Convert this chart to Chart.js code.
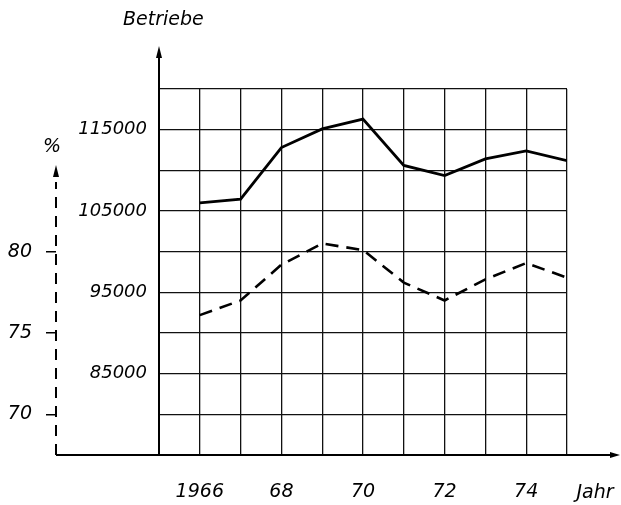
<!DOCTYPE html>
<html>
<head>
<meta charset="utf-8">
<script src="https://cdn.jsdelivr.net/npm/chart.js@4/dist/chart.umd.min.js"></script>
<style>
  body { margin: 0; background: #fff; }
  canvas { display: block; }
</style>
</head>
<body>
<canvas id="chart" width="621" height="505"></canvas>
<script>
// Daten
const jahre = [1966, 1967, 1968, 1969, 1970, 1971, 1972, 1973, 1974, 1975];
const betriebe = [106000, 106450, 112800, 115100, 116300, 110600, 109350, 111400, 112400, 111200];
const prozent = [76.1, 77.0, 79.2, 80.5, 80.1, 78.1, 77.0, 78.3, 79.3, 78.4];

const jahrTicks = [1966, 1968, 1970, 1972, 1974];
const jahrLabels = ['1966', '68', '70', '72', '74'];
const betriebeTicks = [85000, 95000, 105000, 115000];
const prozentTicks = [70, 75, 80];

const schrift = { family: '"DejaVu Sans"', style: 'italic' };

function pfeilHoch(ctx, x, y) { // kleine Pfeilspitze nach oben
    ctx.beginPath();
    ctx.moveTo(x, y);
    ctx.lineTo(x - 3, y + 12);
    ctx.lineTo(x + 3, y + 12);
    ctx.closePath();
    ctx.fill();
}

function pfeilRechts(ctx, x, y) {
    ctx.beginPath();
    ctx.moveTo(x, y);
    ctx.lineTo(x - 10, y - 3);
    ctx.lineTo(x - 10, y + 3);
    ctx.closePath();
    ctx.fill();
}

// Achsenpfeile und Beschriftungen ausserhalb der Zeichenflaeche
const extras = {
    id: 'extras',
    afterDraw(chart) {
        const ctx = chart.ctx;
        const a = chart.chartArea;
        const px = chart.scales.y1.right;
        ctx.save();
        ctx.strokeStyle = '#000';
        ctx.fillStyle = '#000';
        ctx.lineWidth = 2;

        ctx.beginPath();
        ctx.moveTo(a.left, a.top);
        ctx.lineTo(a.left, 56);
        ctx.stroke();
        pfeilHoch(ctx, a.left, 46);

        ctx.setLineDash([11, 8]);
        ctx.beginPath();
        ctx.moveTo(px, a.bottom);
        ctx.lineTo(px, 182);
        ctx.stroke();
        ctx.setLineDash([]);
        pfeilHoch(ctx, px, 165);

        ctx.beginPath();
        ctx.moveTo(px, a.bottom);
        ctx.lineTo(612, a.bottom);
        ctx.stroke();
        pfeilRechts(ctx, 620, a.bottom);

        ctx.font = 'italic 19px "DejaVu Sans"';
        ctx.textBaseline = 'middle';
        ctx.textAlign = 'left';
        ctx.fillText('Betriebe', 123, 20);
        ctx.textAlign = 'center';
        ctx.fillText('%', px - 4, 147);
        ctx.fillText('Jahr', 595, 493);
        ctx.restore();
    }
};

new Chart(document.getElementById('chart'), {
    type: 'line',
    data: {
        datasets: [{
            label: 'Betriebe',
            data: jahre.map((j, i) => ({ x: j, y: betriebe[i] })),
            yAxisID: 'y',
            borderColor: '#000',
            borderWidth: 2.8,
            pointRadius: 0,
            tension: 0
        }, {
            label: '%',
            data: jahre.map((j, i) => ({ x: j, y: prozent[i] })),
            yAxisID: 'y1',
            borderColor: '#000',
            borderWidth: 2.6,
            borderDash: [13, 8],
            pointRadius: 0,
            tension: 0
        }]
    },
    options: {
        responsive: false,
        animation: false,
        layout: { padding: { top: 89, right: 54, left: 0, bottom: 0 } },
        plugins: { legend: { display: false }, tooltip: { enabled: false } },
        scales: {
            x: {
                type: 'linear',
                min: 1965,
                max: 1975,
                afterFit: s => { s.height = 50; },
                afterBuildTicks: s => { s.ticks = jahre.concat([1965]).sort().map(v => ({ value: v })); },
                ticks: {
                    autoSkip: false,
                    maxRotation: 0,
                    padding: 26,
                    color: '#000',
                    font: Object.assign({ size: 19 }, schrift),
                    callback: v => {
                        const k = jahrTicks.indexOf(v);
                        return k >= 0 ? jahrLabels[k] : '';
                    }
                },
                grid: { color: '#111', lineWidth: 1.3, drawTicks: false },
                border: { color: '#000', width: 2 }
            },
            y: {
                position: 'left',
                weight: 0,
                min: 75000,
                max: 120000,
                afterFit: s => { s.width = 103; },
                ticks: {
                    stepSize: 5000,
                    padding: 12,
                    color: '#000',
                    font: Object.assign({ size: 18 }, schrift),
                    callback: v => betriebeTicks.includes(v) ? String(v) : ''
                },
                grid: { color: '#111', lineWidth: 1.3, drawTicks: false },
                border: { color: '#000', width: 2 }
            },
            y1: {
                position: 'left',
                weight: 1,
                min: 67.5,
                max: 90,
                afterFit: s => { s.width = 56; },
                afterBuildTicks: s => { s.ticks = prozentTicks.map(v => ({ value: v })); },
                ticks: {
                    padding: 14,
                    color: '#000',
                    font: Object.assign({ size: 19 }, schrift)
                },
                grid: { drawOnChartArea: false, drawTicks: true, tickLength: 10, color: '#000', lineWidth: 1.5 },
                border: { display: false }
            }
        }
    },
    plugins: [extras]
});
</script>
</body>
</html>
